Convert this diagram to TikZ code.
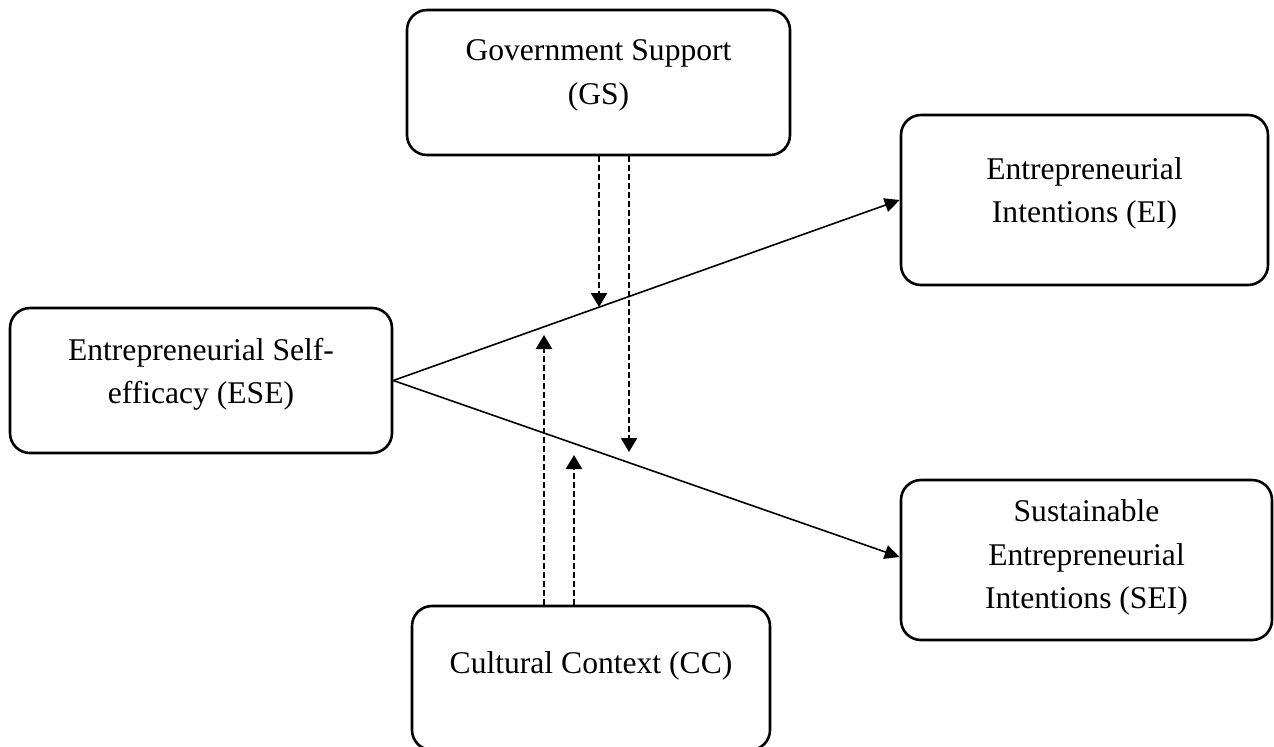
\documentclass[tikz,border=0pt]{standalone}
\usepackage{fontspec}
\setmainfont{Liberation Serif}
\usetikzlibrary{arrows.meta, positioning}
\tikzstyle{block} = [rectangle, draw, line width=1.3pt, rounded corners=10pt, inner sep=0pt]
\tikzstyle{txt} = [align=center, font=\fontsize{15.8}{21.75}\selectfont]
\tikzstyle{line} = [draw, line width=0.8pt, -{Triangle[length=7.5pt, width=7pt]}]
\tikzstyle{dline} = [draw, line width=1.2pt, dash pattern=on 3pt off 1.5pt, -{Triangle[length=7pt, width=8pt]}]

\begin{document}
\begin{tikzpicture}[x=0.5pt, y=-0.5pt]
	\useasboundingbox (0,0) rectangle (1274,746);

	\node [block, minimum width=191.5pt, minimum height=72.5pt, label={[txt, yshift=3.5pt]center:{Government Support\\(GS)}}] (gs) at (598.5, 82.5) {};
	\node [block, minimum width=183.5pt, minimum height=85pt, label={[txt, yshift=3.25pt]center:{Entrepreneurial\\Intentions (EI)}}] (ei) at (1084.5, 200) {};
	\node [block, minimum width=191pt, minimum height=72.5pt, label={[txt, yshift=3pt]center:{Entrepreneurial Self-\\efficacy (ESE)}}] (ese) at (201, 380.5) {};
	\node [block, minimum width=185.5pt, minimum height=80pt, label={[txt, yshift=1.25pt]center:{Sustainable\\Entrepreneurial\\Intentions (SEI)}}] (sei) at (1086.5, 560) {};
	\node [block, minimum width=179pt, minimum height=72pt, label={[txt, yshift=6pt]center:{Cultural Context (CC)}}] (cc) at (591, 678) {};

	% ends of the moderating arrows
	\coordinate (gs1) at (599, 307);
	\coordinate (gs2) at (629, 452);
	\coordinate (cc1) at (544, 335);
	\coordinate (cc2) at (574, 455);

	\path [line] (ese.east) -- (ei.west);
	\path [line] (ese.east) -- ([yshift=1.5pt]sei.west);
	\path [dline] (gs.south -| gs1) -- (gs1);
	\path [dline] (gs.south -| gs2) -- (gs2);
	\path [dline] (cc.north -| cc1) -- (cc1);
	\path [dline] (cc.north -| cc2) -- (cc2);
\end{tikzpicture}
\end{document}
